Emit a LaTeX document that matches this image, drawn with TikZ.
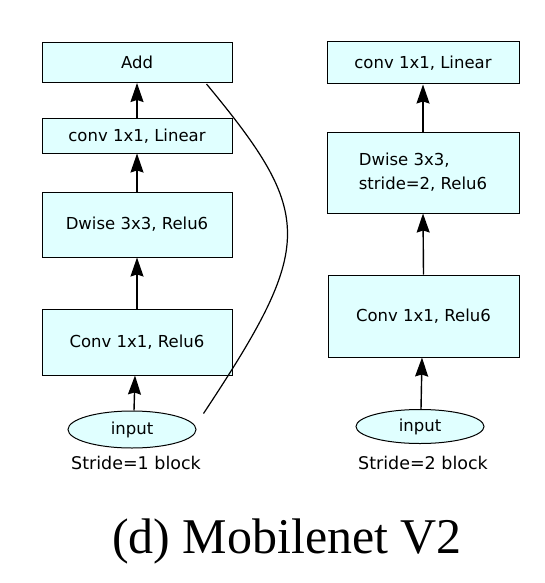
\documentclass[tikz,border=0pt]{standalone}
\usepackage{fontspec}
\setmainfont{Liberation Serif}
\newfontfamily\dv{DejaVu Sans}
\usetikzlibrary{shapes.geometric,arrows.meta,calc}
\definecolor{boxfill}{RGB}{224,255,255}
\begin{document}
\begin{tikzpicture}[x=1pt,y=-1pt,
  blk/.style={draw=black,line width=1pt,fill=boxfill,minimum width=190pt,inner sep=0pt,
    font=\dv\fontsize{16.5}{24}\selectfont},
  inp/.style={ellipse,draw=black,line width=1pt,fill=boxfill,minimum width=128pt,
    minimum height=37pt,inner sep=0pt,font=\dv\fontsize{16.5}{20}\selectfont},
  arr/.style={line width=1.4pt,-{Stealth[length=19pt,width=13pt,inset=2pt]}},
  lbl/.style={font=\dv\fontsize{17.5}{21}\selectfont},
  skip/.style={line width=1.2pt}]
\useasboundingbox (0,0) rectangle (545,583);
% left block
\node[blk,minimum height=40pt] (add) at (137,62.5) {Add};
\node[blk,minimum height=34pt] (lin1) at (137,136) {conv 1x1, Linear};
\node[blk,minimum height=65pt] (dw1) at (137,224.5) {Dwise 3x3, Relu6};
\node[blk,minimum height=66pt] (c1) at (137,342) {Conv 1x1, Relu6};
\node[inp] (in1) at (132,429.5) {input};
\node[lbl] (s1) at (136,463) {Stride=1 block};
% right block
\node[blk,minimum width=192pt,minimum height=42pt] (lin2) at (423,63) {conv 1x1, Linear};
\node[blk,minimum width=192pt,minimum height=81pt,align=left] (dw2) at (423,172.5) {Dwise 3x3,\\stride=2, Relu6};
\node[blk,minimum width=191pt,minimum height=82pt] (c2) at (423.5,316) {Conv 1x1, Relu6};
\node[inp,minimum height=34pt] (in2) at (420,426.5) {input};
\node[lbl] (s2) at (423,463) {Stride=2 block};
% caption
\node[font=\fontsize{50}{56}\selectfont,anchor=base,inner sep=0pt] (cap) at (287,553) {(d) Mobilenet V2};
% arrows left
\draw[arr] (lin1.north) -- (add.south);
\draw[arr] (dw1.north) -- (lin1.south);
\draw[arr] (c1.north) -- (dw1.south);
\draw[arr] ($(in1.north)+(2,0)$) -- ($(c1.south)+(-2,0)$);
% arrows right
\draw[arr] (dw2.north) -- (lin2.south);
\draw[arr] (c2.north) -- (dw2.south);
\draw[arr] ($(in2.north)+(1,0)$) -- ($(c2.south)+(-1.5,0)$);
% skip connection
\coordinate (cs) at ($(in1.east)+(7,-16)$);
\coordinate (ce) at ($(add.south east)+(-26,1)$);
\draw[skip] (cs) .. controls (315,245) and (315,215) .. (ce);
\end{tikzpicture}
\end{document}
